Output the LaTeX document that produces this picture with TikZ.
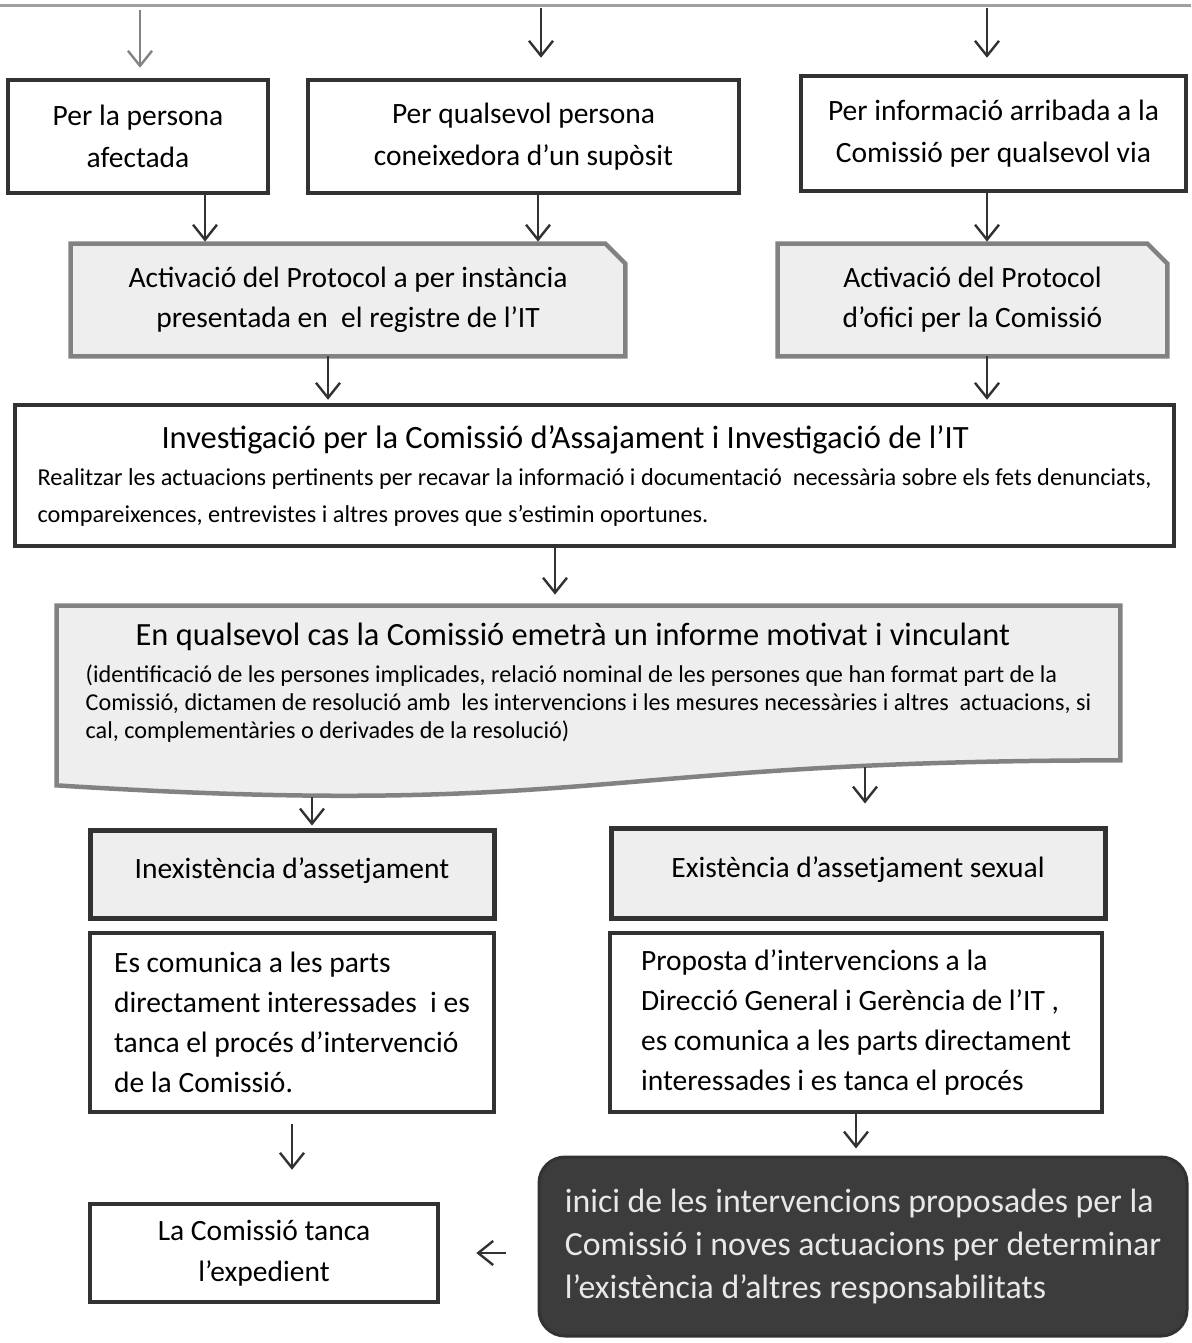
\documentclass[tikz,border=0pt]{standalone}
\usepackage{fontspec}
\setmainfont{Carlito}
\usetikzlibrary{arrows.meta,calc,backgrounds}

\definecolor{linedark}{RGB}{50,50,50}
\definecolor{linegray}{RGB}{130,130,130}
\definecolor{toplinegray}{RGB}{160,160,160}
\definecolor{fillgray}{RGB}{238,238,238}
\definecolor{fillblack}{RGB}{60,60,60}
\definecolor{textlight}{RGB}{232,232,232}

\tikzset{every picture/.style={line width=0.75pt}}
\tikzset{
  txt/.style={font=\fontsize{29.5}{42}\selectfont, align=center, inner sep=0pt},
  whitebox/.style={txt, draw=linedark, line width=4.5pt, fill=white},
  headbox/.style={txt, draw=linedark, line width=5pt, fill=fillgray},
  notebox/.style={txt, align=left, font=\fontsize{29.5}{40}\selectfont},
  grayshape/.style={draw=linegray, line width=4.5pt, fill=fillgray},
  darkbox/.style={txt, align=left, font=\fontsize{33.8}{43}\selectfont, text=textlight,
    draw=linedark, line width=3pt, fill=fillblack, rounded corners=26pt},
  arr/.style={draw=linedark, line width=2.4pt, -{Straight Barb[length=15pt,width=24pt]}},
  arrgray/.style={arr, draw=linegray},
  topline/.style={draw=toplinegray, line width=3pt}
}

\begin{document}
\begin{tikzpicture}[x=1pt,y=1pt,yscale=-1,xscale=1]
\useasboundingbox (0,0) rectangle (1191,1343);

%Top line
\coordinate (tl) at (0,6);
\coordinate (tr) at (1191,6);
\draw[topline] (tl) -- (tr);
\coordinate (t1) at (140,10);
\coordinate (t2) at (541,8);
\coordinate (t3) at (987,8);

%x positions of the connectors
\coordinate (xPA) at (205,0);
\coordinate (xQA) at (538,0);
\coordinate (xRB) at (987,0);
\coordinate (xAI) at (328,0);
\coordinate (xID) at (555,0);
\coordinate (w1) at (312,797);
\coordinate (w2) at (865,767);

% Text Node
\node[whitebox, minimum width=260pt, minimum height=113pt] (pers) at (138,136.5) {Per la persona\\afectada};
% Text Node
\node[whitebox, minimum width=431pt, minimum height=113pt] (qual) at (523.5,136.5) {Per qualsevol persona\\coneixedora d’un supòsit};
% Text Node
\node[whitebox, minimum width=385pt, minimum height=115pt] (info) at (993.5,133.5) {Per informació arribada a la\\Comissió per qualsevol via};

% Text Node
\node[txt, font=\fontsize{29.5}{40}\selectfont, minimum width=554pt, minimum height=112pt] (actA) at (348,300) {Activació del Protocol a per instància\\presentada en\ \ el registre de l’IT};
% Text Node
\node[txt, font=\fontsize{29.5}{40}\selectfont, minimum width=389pt, minimum height=112pt] (actB) at (972.5,300) {Activació del Protocol\\d’ofici per la Comissió};

% Text Node
\node[whitebox, align=left, font=\fontsize{24.3}{37}\selectfont, minimum width=1159pt, minimum height=141pt] (inv) at (594.5,475.5)
  {{\fontsize{32.5}{37}\selectfont\hspace*{124pt}Investigació per la Comissió d’Assajament i Investigació de l’IT}\\
   Realitzar les actuacions pertinents per recavar la informació i documentació\ \ necessària sobre els fets denunciats,\\
   compareixences, entrevistes i altres proves que s’estimin oportunes.};

% Text Node
\node[txt, align=left, font=\fontsize{24.2}{28}\selectfont, minimum width=1063pt, minimum height=154pt] (doc) at (588.5,683)
  {{\fontsize{32.4}{28}\selectfont\hspace*{50pt}En qualsevol cas la Comissió emetrà un informe motivat i vinculant}\\[9pt]
   (identificació de les persones implicades, relació nominal de les persones que han format part de la\\
   Comissió, dictamen de resolució amb\ \ les intervencions i les mesures necessàries i altres\ \ actuacions, si\\
   cal, complementàries o derivades de la resolució)};

% Text Node
\node[headbox, minimum width=404pt, minimum height=88pt, text depth=12pt] (nohar) at (292,874) {Inexistència d’assetjament};
% Text Node
\node[headbox, minimum width=494pt, minimum height=90pt, text depth=12pt] (har) at (858,873) {Existència d’assetjament sexual};

% Text Node
\node[whitebox, notebox, minimum width=404pt, minimum height=179pt] (close) at (292,1022.5)
  {Es comunica a les parts\\directament interessades\ \ i es\\tanca el procés d’intervenció\\de la Comissió.};
% Text Node
\node[whitebox, notebox, minimum width=492pt, minimum height=179pt] (prop) at (856,1022.5)
  {Proposta d’intervencions a la\\Direcció General i Gerència de l’IT ,\\es comunica a les parts directament\\interessades i es tanca el procés};

% Text Node
\node[whitebox, font=\fontsize{29.5}{41}\selectfont, minimum width=348pt, minimum height=98pt] (exp) at (264,1253) {La Comissió tanca\\l’expedient};
% Text Node
\node[darkbox, minimum width=648pt, minimum height=179pt] (start) at (863,1246.5)
  {inici de les intervencions proposades per la\\Comissió i noves actuacions per determinar\\l’existència d’altres responsabilitats};

%Shapes behind the grey boxes
\begin{scope}[on background layer]
\draw[grayshape] (actA.south west) -- (actA.north west) -- ($(actA.north east)+(-20,0)$) -- ($(actA.north east)+(0,20)$) -- (actA.south east) -- cycle;
\draw[grayshape] (actB.south west) -- (actB.north west) -- ($(actB.north east)+(-20,0)$) -- ($(actB.north east)+(0,20)$) -- (actB.south east) -- cycle;
\draw[grayshape] (doc.north west) -- (doc.north east) -- (doc.south east) .. controls (doc.south) and ($(doc.south)+(0,58.6)$) .. ($(doc.south west)+(0,25)$) -- cycle;
\end{scope}

%Connectors
\draw[arrgray, shorten >=10pt] (t1) -- (t1 |- pers.north);
\draw[arr, shorten >=20pt] (t2) -- (t2 |- qual.north);
\draw[arr, shorten >=16pt] (t3) -- (t3 |- info.north);
\draw[arr, shorten >=2pt] (pers.south -| xPA) -- (actA.north -| xPA);
\draw[arr, shorten >=2pt] (qual.south -| xQA) -- (actA.north -| xQA);
\draw[arr, shorten >=2pt] (info.south -| xRB) -- (actB.north -| xRB);
\draw[arr, shorten >=3pt] (actA.south -| xAI) -- (inv.north -| xAI);
\draw[arr, shorten >=3pt] (actB.south -| xRB) -- (inv.north -| xRB);
\draw[arr, shorten >=11pt] (inv.south -| xID) -- (doc.north -| xID);
\draw[arr, shorten >=2pt] (w1) -- (w1 |- nohar.north);
\draw[arr, shorten >=22pt] (w2) -- (w2 |- har.north);
\draw[arr, shorten <=10pt, shorten >=32pt] (close.south) -- (close.south |- exp.north);
\draw[arr, shorten >=7pt] (prop.south) -- (prop.south |- start.north);
\draw[arr, shorten <=32pt, shorten >=36pt] (start.west |- exp.east) -- (exp.east);

\end{tikzpicture}
\end{document}
